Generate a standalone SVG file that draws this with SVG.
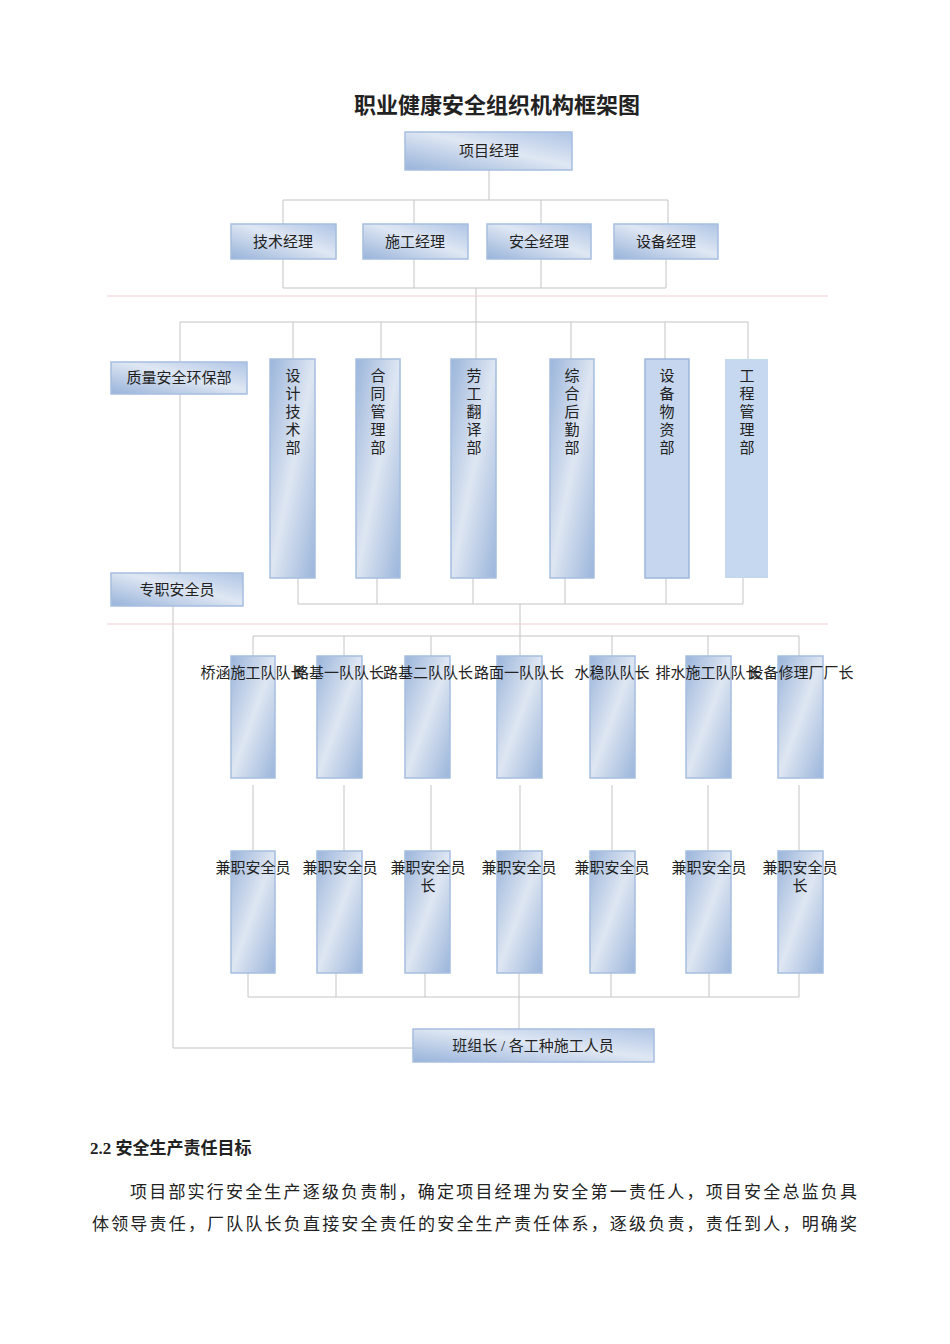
<svg xmlns="http://www.w3.org/2000/svg" width="950" height="1344" viewBox="0 0 950 1344">
<style>
.t{font-family:"Liberation Serif","Noto Sans CJK SC",serif;fill:#222;}
.bx{fill:url(#gh);stroke:#a6bee0;stroke-width:1.5;}
.vb{fill:url(#gv);stroke:#a6bee0;stroke-width:1.5;}
.c{stroke:#c4c4c4;stroke-width:1;fill:none;}
.p{stroke:#f2cccc;stroke-width:1;fill:none;}
.lb{font-size:15px;text-anchor:middle;}
</style>
<defs>
<linearGradient id="gh" x1="0" y1="1" x2="1" y2="0">
<stop offset="0" stop-color="#98b3da"/>
<stop offset="0.55" stop-color="#dfe7f3"/>
<stop offset="1" stop-color="#aec4e5"/>
</linearGradient>
<linearGradient id="gv" x1="0" y1="0" x2="1" y2="1">
<stop offset="0" stop-color="#9bb5db"/>
<stop offset="0.5" stop-color="#dee6f2"/>
<stop offset="1" stop-color="#9bb5db"/>
</linearGradient>
</defs>
<rect width="950" height="1344" fill="#fff"/>
<text class="t" x="497" y="113" font-size="22" font-weight="bold" text-anchor="middle">职业健康安全组织机构框架图</text>
<g id="connectors">
<path class="c" d="M489 170V200M283 200H668M283 200V224M414 200V224M541 200V224M668 200V224"/>
<path class="c" d="M283 259V288M414 259V288M541 259V288M666 259V288M283 288H666M476 288V322"/>
<path class="c" d="M180 322H748M180 322V362M293 322V359M381 322V359M476 322V359M571 322V359M665 322V359M748 322V359"/>
<path class="c" d="M180 394V573"/>
<path class="c" d="M298 578V604M377 578V604M473 578V604M565 578V604M666 578V604M743 578V604M298 604H743M520 604V636"/>
<path class="c" d="M253 636H799M253 636V656M344 636V656M431 636V656M520 636V656M612 636V656M708 636V656M799 636V656"/>
<path class="c" d="M253 785V851M344 785V851M431 785V851M520 785V851M612 785V851M708 785V851M799 785V851"/>
<path class="c" d="M248 973V997M336 973V997M425 973V997M519 973V997M611 973V997M709 973V997M799 973V997M248 997H799M519 997V1029"/>
<path class="c" d="M173 606V1048H413"/>
<path class="p" d="M107 296H828M107 624H828"/>
</g>
<g id="n-pm"><rect class="bx" x="405" y="132" width="167" height="38"/><text class="t lb" x="489" y="156">项目经理</text></g>
<g id="n-tech"><rect class="bx" x="231" y="224" width="105" height="35"/><text class="t lb" x="283" y="247">技术经理</text></g>
<g id="n-cons"><rect class="bx" x="363" y="224" width="105" height="35"/><text class="t lb" x="415" y="247">施工经理</text></g>
<g id="n-safe"><rect class="bx" x="487" y="224" width="104" height="35"/><text class="t lb" x="539" y="247">安全经理</text></g>
<g id="n-equip"><rect class="bx" x="614" y="224" width="104" height="35"/><text class="t lb" x="666" y="247">设备经理</text></g>
<g id="n-quality"><rect class="bx" x="111" y="362" width="136" height="32"/><text class="t lb" x="179" y="383">质量安全环保部</text></g>
<g id="n-fulltime"><rect class="bx" x="111" y="573" width="132" height="33"/><text class="t lb" x="177" y="595">专职安全员</text></g>
<g id="n-d1"><rect class="vb" x="270" y="359" width="45" height="219"/><text class="t lb" x="293"><tspan x="293" y="381">设</tspan><tspan x="293" y="399">计</tspan><tspan x="293" y="417">技</tspan><tspan x="293" y="435">术</tspan><tspan x="293" y="453">部</tspan></text></g>
<g id="n-d2"><rect class="vb" x="356" y="359" width="44" height="219"/><text class="t lb" x="378"><tspan x="378" y="381">合</tspan><tspan x="378" y="399">同</tspan><tspan x="378" y="417">管</tspan><tspan x="378" y="435">理</tspan><tspan x="378" y="453">部</tspan></text></g>
<g id="n-d3"><rect class="vb" x="451" y="359" width="45" height="219"/><text class="t lb" x="474"><tspan x="474" y="381">劳</tspan><tspan x="474" y="399">工</tspan><tspan x="474" y="417">翻</tspan><tspan x="474" y="435">译</tspan><tspan x="474" y="453">部</tspan></text></g>
<g id="n-d4"><rect class="vb" x="550" y="359" width="44" height="219"/><text class="t lb" x="572"><tspan x="572" y="381">综</tspan><tspan x="572" y="399">合</tspan><tspan x="572" y="417">后</tspan><tspan x="572" y="435">勤</tspan><tspan x="572" y="453">部</tspan></text></g>
<g id="n-d5"><rect x="645" y="359" width="44" height="219" fill="#c5d6ee" stroke="#9db7dc" stroke-width="1.5"/><text class="t lb" x="667"><tspan x="667" y="381">设</tspan><tspan x="667" y="399">备</tspan><tspan x="667" y="417">物</tspan><tspan x="667" y="435">资</tspan><tspan x="667" y="453">部</tspan></text></g>
<g id="n-d6"><rect x="725" y="359" width="43" height="219" fill="#c6d8f0"/><text class="t lb" x="747"><tspan x="747" y="381">工</tspan><tspan x="747" y="399">程</tspan><tspan x="747" y="417">管</tspan><tspan x="747" y="435">理</tspan><tspan x="747" y="453">部</tspan></text></g>
<g id="n-t1"><rect class="vb" x="231" y="656" width="44" height="122"/><text class="t lb" x="253" y="678">桥涵施工队队长</text></g>
<g id="n-t2"><rect class="vb" x="317" y="656" width="45" height="122"/><text class="t lb" x="339" y="678">路基一队队长</text></g>
<g id="n-t3"><rect class="vb" x="405" y="656" width="45" height="122"/><text class="t lb" x="428" y="678">路基二队队长</text></g>
<g id="n-t4"><rect class="vb" x="497" y="656" width="45" height="122"/><text class="t lb" x="519" y="678">路面一队队长</text></g>
<g id="n-t5"><rect class="vb" x="590" y="656" width="45" height="122"/><text class="t lb" x="612" y="678">水稳队队长</text></g>
<g id="n-t6"><rect class="vb" x="686" y="656" width="45" height="122"/><text class="t lb" x="708" y="678">排水施工队队长</text></g>
<g id="n-t7"><rect class="vb" x="778" y="656" width="45" height="122"/><text class="t lb" x="801" y="678">设备修理厂厂长</text></g>
<g id="n-s1"><rect class="vb" x="231" y="851" width="44" height="122"/><text class="t lb" x="253" y="873">兼职安全员</text></g>
<g id="n-s2"><rect class="vb" x="317" y="851" width="45" height="122"/><text class="t lb" x="340" y="873">兼职安全员</text></g>
<g id="n-s3"><rect class="vb" x="405" y="851" width="45" height="122"/><text class="t lb" x="428"><tspan x="428" y="873">兼职安全员</tspan><tspan x="428" y="891">长</tspan></text></g>
<g id="n-s4"><rect class="vb" x="497" y="851" width="45" height="122"/><text class="t lb" x="519" y="873">兼职安全员</text></g>
<g id="n-s5"><rect class="vb" x="590" y="851" width="45" height="122"/><text class="t lb" x="612" y="873">兼职安全员</text></g>
<g id="n-s6"><rect class="vb" x="686" y="851" width="45" height="122"/><text class="t lb" x="709" y="873">兼职安全员</text></g>
<g id="n-s7"><rect class="vb" x="778" y="851" width="45" height="122"/><text class="t lb" x="800"><tspan x="800" y="873">兼职安全员</tspan><tspan x="800" y="891">长</tspan></text></g>
<g id="n-crew"><rect class="bx" x="413" y="1029" width="241" height="33"/><text class="t lb" x="533" y="1051">班组长 / 各工种施工人员</text></g>
<text class="t" x="90" y="1154" font-size="17" font-weight="bold">2.2 安全生产责任目标</text>
<text class="t" x="130" y="1198" font-size="17" textLength="727" lengthAdjust="spacing">项目部实行安全生产逐级负责制，确定项目经理为安全第一责任人，项目安全总监负具</text>
<text class="t" x="92" y="1230" font-size="17" textLength="765" lengthAdjust="spacing">体领导责任，厂队队长负直接安全责任的安全生产责任体系，逐级负责，责任到人，明确奖</text>
</svg>
